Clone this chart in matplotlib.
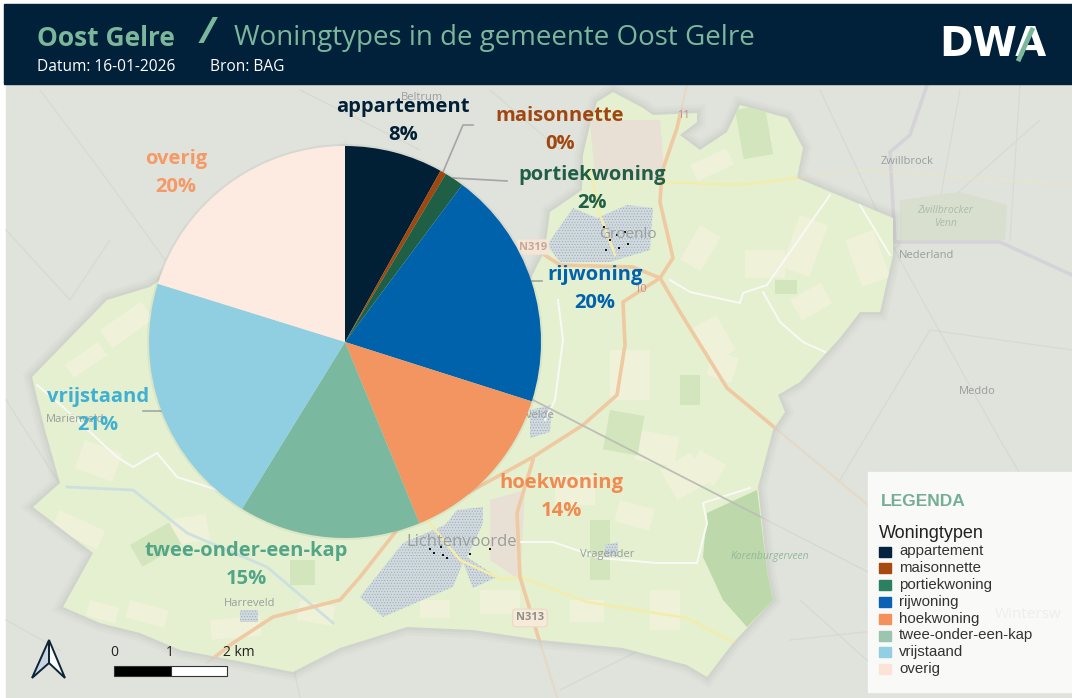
"""Woningtypes in de gemeente Oost Gelre, pie over a faded map."""

import matplotlib

matplotlib.use("Agg")
import matplotlib.pyplot as plt
from matplotlib.patches import Circle, Polygon, Rectangle

WIDTH, HEIGHT = 1072, 698

categories = ["appartement", "maisonnette", "portiekwoning", "rijwoning",
              "hoekwoning", "twee-onder-een-kap", "vrijstaand", "overig"]
shares = [8.1, 0.5, 1.6, 19.7, 13.9, 15.0, 21.0, 20.2]
share_labels = ["8%", "0%", "2%", "20%", "14%", "15%", "21%", "20%"]
colors = ["#011f35", "#a0470f", "#1f5f45", "#0162ac",
          "#f29560", "#7ab9a0", "#90cfe2", "#fdeae0"]
label_colors = ["#011f35", "#a0470f", "#1f5f45", "#0162ac",
                "#f28a50", "#52a687", "#3fb0d2", "#f59a66"]
legend_colors = ["#05233f", "#a84a10", "#2a8060", "#0b62b4",
                 "#f4915a", "#9cc5b0", "#93cfe3", "#fde2d8"]
label_xy = [(403, 121), (560, 130), (592, 189), (595, 289),
            (561, 497), (246, 565), (98, 411), (176, 173)]
leader_lines = [[(443, 172), (463, 125), (473, 125)],
                [(453, 178), (507, 181)],
                [(532, 281), (542, 281)],
                [(143, 411), (162, 411)]]

municipality = [(150, 287), (345, 150), (530, 280), (545, 250), (550, 212), (582, 190),
                (583, 155), (590, 125), (597, 102), (613, 92), (643, 108), (653, 115),
                (697, 113), (697, 122), (680, 135), (700, 150), (727, 132), (740, 105),
                (787, 118), (803, 148), (797, 178), (833, 193), (893, 218), (893, 255),
                (880, 312), (860, 312), (840, 338), (800, 382), (778, 395), (785, 412),
                (773, 430), (758, 487), (768, 577), (773, 600), (733, 643), (707, 677),
                (687, 665), (623, 648), (540, 640), (473, 630), (407, 627), (340, 648),
                (293, 672), (207, 655), (180, 650), (140, 633), (100, 623), (63, 607),
                (93, 553), (33, 507), (60, 483), (45, 430), (32, 377), (107, 300)]
orange_roads = [[(687, 85), (677, 128), (662, 172), (660, 202), (673, 258), (660, 278),
                 (680, 312), (727, 388), (780, 432), (868, 505)],
                [(660, 278), (623, 302), (625, 345), (617, 395), (583, 425), (533, 457),
                 (473, 490), (397, 530), (360, 577), (340, 600), (273, 617), (233, 643), (207, 663)],
                [(540, 252), (560, 265), (633, 267), (660, 278)],
                [(533, 460), (517, 513), (520, 577), (537, 633), (557, 697)]]
yellow_roads = [[(427, 520), (460, 560), (503, 580), (520, 577), (587, 602), (687, 618), (735, 643)],
                [(665, 182), (740, 185), (797, 178), (860, 170), (1072, 185)],
                [(590, 170), (600, 215), (615, 255)]]
white_roads = [[(830, 195), (767, 285), (743, 293), (740, 303), (690, 292), (670, 280)],
               [(763, 292), (780, 322), (803, 342), (825, 352)],
               [(860, 205), (890, 255)],
               [(37, 385), (63, 407), (117, 457), (133, 467), (157, 453), (177, 477), (227, 493)],
               [(520, 542), (553, 542), (600, 558), (657, 563), (697, 563)],
               [(750, 488), (703, 503), (707, 523), (697, 563)],
               [(558, 300), (563, 340), (555, 400), (545, 420)]]
canal = [(67, 487), (133, 490), (187, 533), (267, 567), (333, 623)]
rail = [(533, 400), (757, 515), (868, 572)]
border = [(927, 85), (910, 135), (890, 152), (895, 242), (1000, 242), (1072, 275)]
faint_lines = [[(40, 90), (100, 170), (165, 260)], [(6, 230), (70, 300), (110, 240)],
               [(6, 400), (70, 500), (140, 600)], [(820, 90), (900, 260), (1000, 440), (1072, 560)],
               [(893, 250), (1040, 120)], [(840, 480), (930, 330), (1072, 350)],
               [(300, 90), (420, 150)], [(490, 90), (560, 150)], [(960, 90), (940, 200)],
               [(1020, 85), (1010, 240)], [(300, 698), (290, 650)], [(60, 650), (6, 620)],
               [(560, 690), (640, 650)], [(800, 600), (900, 690)], [(790, 640), (1072, 610)]]
fields = [(690, 165, 40, 18, -25), (740, 140, 30, 14, -25), (800, 215, 30, 55, 20), (700, 225, 24, 40, 30),
          (845, 240, 30, 50, -20), (745, 250, 40, 28, 0), (790, 300, 35, 24, -30), (690, 330, 30, 40, -30),
          (610, 350, 40, 50, 0), (640, 430, 40, 30, 10), (715, 350, 26, 26, 20), (660, 470, 35, 35, -30),
          (555, 475, 40, 30, 0), (620, 500, 36, 22, 15), (700, 450, 30, 24, 30), (570, 600, 34, 22, 0),
          (650, 590, 30, 40, 0), (480, 590, 40, 24, 0), (420, 600, 30, 18, 0), (100, 330, 50, 22, -35),
          (65, 365, 40, 16, -35), (85, 440, 40, 30, 20), (60, 510, 50, 20, 25), (130, 600, 40, 18, 15),
          (90, 600, 30, 16, 15), (210, 620, 50, 20, -5), (300, 600, 36, 20, 10), (170, 520, 36, 26, -10)]
dark_fields = [(610, 410, 35, 40, 10), (735, 110, 30, 50, -10), (590, 520, 20, 60, 0), (680, 375, 20, 30, 0),
               (630, 125, 20, 20, 0), (130, 545, 45, 25, -30), (290, 560, 25, 25, 0), (775, 280, 22, 14, 0)]
forest = [(707, 513), (757, 490), (768, 577), (773, 600), (747, 627), (723, 600), (703, 557)]
venn = [(900, 200), (960, 192), (1007, 205), (1005, 240), (900, 240)]
groenlo = [(547, 245), (573, 208), (597, 218), (627, 205), (653, 208), (650, 250),
           (610, 262), (560, 262)]
lichtenvoorde = [(360, 597), (403, 543), (445, 525), (457, 510), (483, 507), (483, 523), (467, 557),
                 (497, 577), (473, 588), (463, 562), (453, 587), (383, 617)]
small_towns = [[(530, 410), (552, 405), (550, 432), (530, 438)],
               [(605, 545), (618, 542), (618, 556), (605, 556)],
               [(240, 610), (258, 610), (258, 622), (240, 622)]]
built_up = [[(590, 120), (660, 120), (665, 180), (595, 180)], [(490, 500), (525, 490), (520, 580), (490, 560)]]
center_marks_x = [604, 610, 617, 625, 628, 606, 619, 430, 434, 441, 443, 447, 490, 470]
center_marks_y = [227, 240, 235, 232, 244, 250, 248, 549, 553, 547, 555, 558, 549, 554]
place_names = [("Beltrum", 422, 97, 8), ("Groenlo", 628, 234, 11), ("Lichtenvoorde", 462, 542, 12),
               ("Mariënveld", 75, 419, 8), ("Harreveld", 250, 603, 8), ("Vragender", 607, 554, 8),
               ("Zwillbrock", 907, 162, 8), ("Nederland", 927, 256, 8), ("Meddo", 977, 392, 8),
               ("Lievelde", 533, 416, 8)]


def draw_road(ax, points, color, width, clip, zorder=1.3):
    # faint outside the municipality, full colour inside it
    ax.plot(*zip(*points), color=color, lw=width * 0.6, alpha=0.35, zorder=zorder - 0.8)
    line, = ax.plot(*zip(*points), color=color, lw=width, zorder=zorder)
    line.set_clip_path(clip)


fig = plt.figure(figsize=(WIDTH / 100, HEIGHT / 100), dpi=100, facecolor="white")
page = fig.add_axes([0, 0, 1, 1])
page.set_xlim(0, WIDTH)
page.set_ylim(HEIGHT, 0)
page.axis("off")

# faded map underneath
page.add_patch(Rectangle((6, 84), 1066, 614, color="#e0e2dc", zorder=0))
for points in faint_lines:
    page.plot(*zip(*points), color="#d7dad2", lw=0.9, zorder=0.1)
page.add_patch(Polygon(venn, closed=True, fc="#d9dfcf", ec="none", zorder=0.1))
page.plot(*zip(*border), color="#d5d2d8", lw=2.5, zorder=0.2)
for width, alpha in [(12, 0.03), (8, 0.04), (4, 0.05)]:
    page.add_patch(Polygon(municipality, closed=True, fill=False, ec="#707468", lw=width,
                           alpha=alpha, zorder=0.9))
land = Polygon(municipality, closed=True, fc="#e4f0cf", ec="none", zorder=1)
page.add_patch(land)
for x, y, w, h, ang in fields:
    patch = Rectangle((x, y), w, h, angle=ang, fc="#eff2d9", ec="none", zorder=1.05)
    page.add_patch(patch)
    patch.set_clip_path(land)
for x, y, w, h, ang in dark_fields:
    patch = Rectangle((x, y), w, h, angle=ang, fc="#d3e5bd", ec="none", zorder=1.06)
    page.add_patch(patch)
    patch.set_clip_path(land)
for shape in built_up:
    page.add_patch(Polygon(shape, closed=True, fc="#e8e0d4", ec="none", zorder=1.07))
wood = Polygon(forest, closed=True, fc="#bdd8ab", ec="none", zorder=1.08)
page.add_patch(wood)
plt.rcParams["hatch.linewidth"] = 0.4
for shape in [groenlo, lichtenvoorde] + small_towns:
    page.add_patch(Polygon(shape, closed=True, fc="#d0dade", ec="#9aa9b6", lw=0, hatch="......", zorder=1.2))
page.plot(*zip(*canal), color="#cde0e0", lw=2, zorder=1.25)
for road in white_roads:
    draw_road(page, road, "#f8f8f4", 1.5, land, zorder=1.27)
for road in yellow_roads:
    draw_road(page, road, "#f3edab", 1.8, land, zorder=1.29)
for road in orange_roads:
    draw_road(page, road, "#efc9a2", 2.6, land)
draw_road(page, rail, "#bcbfb6", 1.3, land, zorder=1.3)
page.scatter(center_marks_x, center_marks_y, s=4, marker="s", color="#15181c", lw=0, zorder=1.35)
for name, x, y, size in place_names:
    page.text(x, y, name, color="#9a9e9c", fontsize=size, ha="center", va="center",
              family="Open Sans", zorder=1.4)
page.text(945, 217, "Zwillbrocker\nVenn", color="#a9bcaa", fontsize=7.5, style="italic", ha="center",
          va="center", family="Open Sans", zorder=1.4)
page.text(770, 556, "Korenburgerveen", color="#93b99a", fontsize=7.5, style="italic", ha="center",
          va="center", family="Open Sans", zorder=1.4)
page.text(530, 618, "N313", color="#8f8f86", fontsize=8, fontweight="bold", ha="center", va="center",
          family="Open Sans", zorder=1.4, bbox={"boxstyle": "round,pad=0.3", "fc": "#f7ead9", "ec": "#eadcc8"})
page.text(533, 247, "N319", color="#c9a79a", fontsize=8, fontweight="bold", ha="center", va="center",
          family="Open Sans", zorder=1.4, bbox={"boxstyle": "round,pad=0.2", "fc": "#f3e6d6", "ec": "none"})
for txt, x, y in [("11", 683, 115), ("10", 640, 290)]:
    page.text(x, y, txt, color="#c98f88", fontsize=8, ha="center", va="center", family="Open Sans", zorder=1.4)

# header band
page.add_patch(Rectangle((4, 4), 1068, 80, color="#012039", zorder=5))
page.text(37, 38, "Oost Gelre", color="#7ab79b", fontsize=19, fontweight="bold",
          family="Open Sans", va="center", zorder=6)
page.text(207, 34, "/", color="#7ab79b", fontsize=26, fontweight="bold", style="italic",
          ha="center", va="center", zorder=6, family="Open Sans")
page.text(234, 38, "Woningtypes in de gemeente Oost Gelre", color="#7ab79b", fontsize=20,
          family="Open Sans", va="center", zorder=6)
page.text(37, 67, "Datum: 16-01-2026", color="white", fontsize=11.2, family="Open Sans",
          va="center", zorder=6)
page.text(210, 67, "Bron: BAG", color="white", fontsize=11.2, family="Open Sans",
          va="center", zorder=6)
page.text(993, 45, "DWA", color="white", fontsize=29, fontweight="bold", family="DejaVu Sans",
          ha="center", va="center", zorder=6)
page.plot([1019, 1032], [59, 30], color="#7ab79b", lw=3.4, zorder=7)

# leader lines and slice labels
for line in leader_lines:
    page.plot(*zip(*line), color="#a5a5a5", lw=1.2, zorder=2)
page.add_patch(Circle((345, 342), 198, color="#5a5a50", alpha=0.07, lw=0, zorder=2.5))
for cat, pct, col, (x, y) in zip(categories, share_labels, label_colors, label_xy):
    page.text(x, y - 14, cat, color=col, fontsize=14.5, fontweight="bold", family="Open Sans",
              ha="center", va="center", zorder=4)
    page.text(x, y + 14, pct, color=col, fontsize=14.5, fontweight="bold", family="Open Sans",
              ha="center", va="center", zorder=4)

# pie in its own axes, centre 345,342 radius 196
pie_ax = fig.add_axes([(345 - 196) / WIDTH, 1 - (342 + 196) / HEIGHT, 392 / WIDTH, 392 / HEIGHT],
                      zorder=3)
pie_ax.pie(shares, colors=colors, startangle=90, counterclock=False, radius=1,
           wedgeprops={"linewidth": 0})
pie_ax.set_xlim(-1, 1)
pie_ax.set_ylim(-1, 1)

# legend panel
over = fig.add_axes([0, 0, 1, 1], zorder=6)
over.set_xlim(0, WIDTH)
over.set_ylim(HEIGHT, 0)
over.axis("off")
over.add_patch(Rectangle((868, 472), 204, 220, color="#f9f9f8"))
over.text(995, 615, "Wintersw", color="#eeeeec", fontsize=11, family="Open Sans", va="center")
over.text(881, 501, "LEGENDA", color="#74ae95", fontsize=12.5, fontweight="bold",
          family="Liberation Sans", va="center")
over.text(879, 533, "Woningtypen", color="#222222", fontsize=13, family="Liberation Sans", va="center")
for i, (cat, col) in enumerate(zip(categories, legend_colors)):
    y = 551.5 + i * 16.8
    over.add_patch(Rectangle((879, y - 5), 12, 10, color=col))
    over.text(899, y, cat, color="#333333", fontsize=10.8, family="Liberation Sans", va="center")

# north arrow
over.add_patch(Polygon([(49, 640), (32, 678), (49, 663)], closed=True, fc="#c9d6e2", ec="#0d2438", lw=1.4))
over.add_patch(Polygon([(49, 640), (65, 678), (49, 663)], closed=True, fc="white", ec="#0d2438", lw=1.4))

# scale bar
over.add_patch(Rectangle((114, 666), 57, 10, fc="black", ec="#333333", lw=0.8))
over.add_patch(Rectangle((171, 666), 56, 10, fc="white", ec="#333333", lw=0.8))
for x, txt in [(114, "0"), (170, "1"), (239, "2 km")]:
    over.text(x, 652, txt, color="#222222", fontsize=10, family="Open Sans", ha="center", va="center")

fig.savefig("out.png", dpi=100)
